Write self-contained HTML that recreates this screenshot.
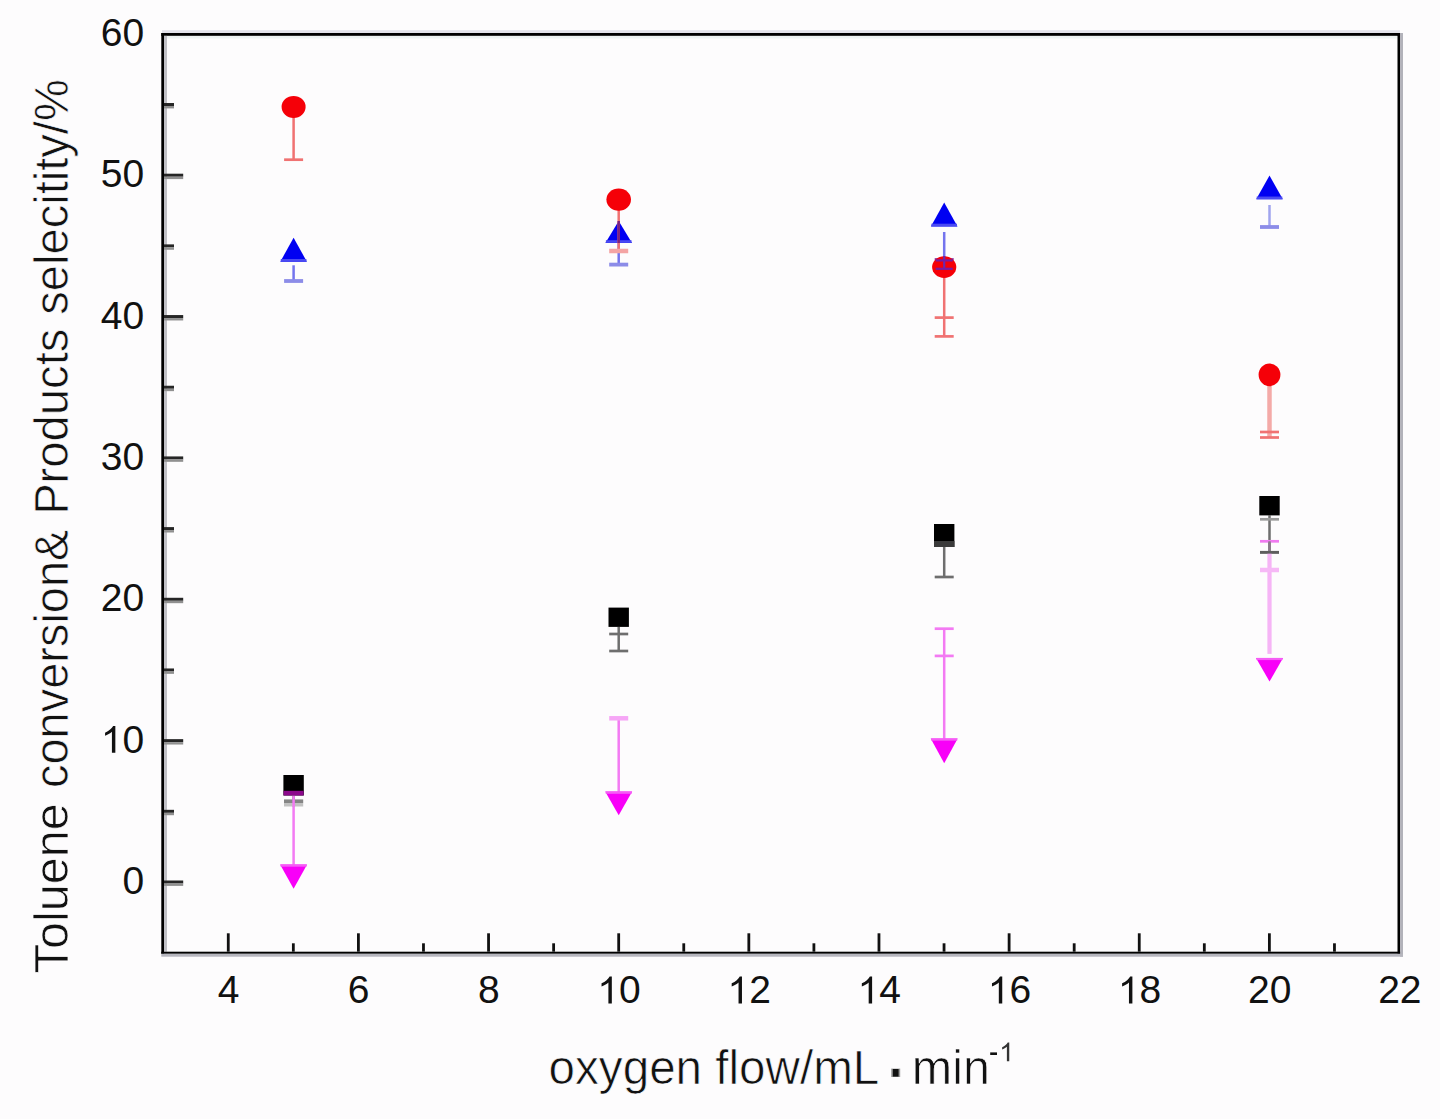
<!DOCTYPE html>
<html><head><meta charset="utf-8"><style>
html,body{margin:0;padding:0;background:#fdfcfd;}
body{width:1440px;height:1119px;overflow:hidden;}
svg{display:block;}
.tl{font-family:"Liberation Sans",sans-serif;font-size:39px;fill:#111;}
.at{font-family:"Liberation Sans",sans-serif;fill:#111;stroke:#fdfcfd;stroke-width:0.7px;}
</style></head><body>
<svg width="1440" height="1119" viewBox="0 0 1440 1119">
<rect x="162.00" y="30.20" width="1238.00" height="2.80" fill="#e2e2ea"/>
<rect x="161.30" y="33.00" width="1238.80" height="2.90" fill="#000"/>
<rect x="164.00" y="35.90" width="1233.50" height="2.60" fill="#eef3f3"/>
<rect x="161.30" y="33.00" width="2.70" height="920.80" fill="#000"/>
<rect x="164.00" y="35.90" width="3.00" height="915.80" fill="#c0c0c6"/>
<rect x="1397.50" y="33.00" width="2.60" height="920.80" fill="#000"/>
<rect x="1400.10" y="33.00" width="2.90" height="923.70" fill="#b2b2ba"/>
<rect x="161.30" y="951.70" width="1238.80" height="2.10" fill="#000"/>
<rect x="161.30" y="953.80" width="1241.70" height="2.90" fill="#b6b6be"/>
<rect x="164.00" y="880.50" width="19.20" height="3.00" fill="#262626"/>
<rect x="164.00" y="883.50" width="19.20" height="2.40" fill="#909090"/>
<rect x="164.00" y="809.82" width="10.00" height="3.00" fill="#262626"/>
<rect x="164.00" y="812.82" width="10.00" height="2.40" fill="#909090"/>
<rect x="164.00" y="739.14" width="19.20" height="3.00" fill="#262626"/>
<rect x="164.00" y="742.14" width="19.20" height="2.40" fill="#909090"/>
<rect x="164.00" y="668.46" width="10.00" height="3.00" fill="#262626"/>
<rect x="164.00" y="671.46" width="10.00" height="2.40" fill="#909090"/>
<rect x="164.00" y="597.78" width="19.20" height="3.00" fill="#262626"/>
<rect x="164.00" y="600.78" width="19.20" height="2.40" fill="#909090"/>
<rect x="164.00" y="527.10" width="10.00" height="3.00" fill="#262626"/>
<rect x="164.00" y="530.10" width="10.00" height="2.40" fill="#909090"/>
<rect x="164.00" y="456.42" width="19.20" height="3.00" fill="#262626"/>
<rect x="164.00" y="459.42" width="19.20" height="2.40" fill="#909090"/>
<rect x="164.00" y="385.74" width="10.00" height="3.00" fill="#262626"/>
<rect x="164.00" y="388.74" width="10.00" height="2.40" fill="#909090"/>
<rect x="164.00" y="315.06" width="19.20" height="3.00" fill="#262626"/>
<rect x="164.00" y="318.06" width="19.20" height="2.40" fill="#909090"/>
<rect x="164.00" y="244.38" width="10.00" height="3.00" fill="#262626"/>
<rect x="164.00" y="247.38" width="10.00" height="2.40" fill="#909090"/>
<rect x="164.00" y="173.70" width="19.20" height="3.00" fill="#262626"/>
<rect x="164.00" y="176.70" width="19.20" height="2.40" fill="#909090"/>
<rect x="164.00" y="103.02" width="10.00" height="3.00" fill="#262626"/>
<rect x="164.00" y="106.02" width="10.00" height="2.40" fill="#909090"/>
<rect x="226.87" y="933.30" width="2.80" height="18.40" fill="#111"/>
<rect x="291.94" y="943.30" width="2.80" height="8.40" fill="#111"/>
<rect x="357.01" y="933.30" width="2.80" height="18.40" fill="#111"/>
<rect x="422.08" y="943.30" width="2.80" height="8.40" fill="#111"/>
<rect x="487.15" y="933.30" width="2.80" height="18.40" fill="#111"/>
<rect x="552.22" y="943.30" width="2.80" height="8.40" fill="#111"/>
<rect x="617.29" y="933.30" width="2.80" height="18.40" fill="#111"/>
<rect x="682.36" y="943.30" width="2.80" height="8.40" fill="#111"/>
<rect x="747.43" y="933.30" width="2.80" height="18.40" fill="#111"/>
<rect x="812.50" y="943.30" width="2.80" height="8.40" fill="#111"/>
<rect x="877.57" y="933.30" width="2.80" height="18.40" fill="#111"/>
<rect x="942.64" y="943.30" width="2.80" height="8.40" fill="#111"/>
<rect x="1007.71" y="933.30" width="2.80" height="18.40" fill="#111"/>
<rect x="1072.78" y="943.30" width="2.80" height="8.40" fill="#111"/>
<rect x="1137.85" y="933.30" width="2.80" height="18.40" fill="#111"/>
<rect x="1202.92" y="943.30" width="2.80" height="8.40" fill="#111"/>
<rect x="1267.99" y="933.30" width="2.80" height="18.40" fill="#111"/>
<rect x="1333.06" y="943.30" width="2.80" height="8.40" fill="#111"/>
<text x="122.51" y="894.10" class="tl">0</text>
<path transform="translate(100.82,752.74) scale(0.01904,-0.01822)" d="M763 0H583V1147Q518 1085 412.5 1023T223 930V1104Q374 1175 487 1276T647 1472H763V0Z" fill="#111"/>
<text x="122.51" y="752.74" class="tl">0</text>
<text x="100.82" y="611.38" class="tl">2</text>
<text x="122.51" y="611.38" class="tl">0</text>
<text x="100.82" y="470.02" class="tl">3</text>
<text x="122.51" y="470.02" class="tl">0</text>
<text x="100.82" y="328.66" class="tl">4</text>
<text x="122.51" y="328.66" class="tl">0</text>
<text x="100.82" y="187.30" class="tl">5</text>
<text x="122.51" y="187.30" class="tl">0</text>
<text x="100.82" y="45.94" class="tl">6</text>
<text x="122.51" y="45.94" class="tl">0</text>
<text x="217.73" y="1003.40" class="tl">4</text>
<text x="347.87" y="1003.40" class="tl">6</text>
<text x="478.01" y="1003.40" class="tl">8</text>
<path transform="translate(597.30,1003.40) scale(0.01904,-0.01822)" d="M763 0H583V1147Q518 1085 412.5 1023T223 930V1104Q374 1175 487 1276T647 1472H763V0Z" fill="#111"/>
<text x="618.99" y="1003.40" class="tl">0</text>
<path transform="translate(727.44,1003.40) scale(0.01904,-0.01822)" d="M763 0H583V1147Q518 1085 412.5 1023T223 930V1104Q374 1175 487 1276T647 1472H763V0Z" fill="#111"/>
<text x="749.13" y="1003.40" class="tl">2</text>
<path transform="translate(857.58,1003.40) scale(0.01904,-0.01822)" d="M763 0H583V1147Q518 1085 412.5 1023T223 930V1104Q374 1175 487 1276T647 1472H763V0Z" fill="#111"/>
<text x="879.27" y="1003.40" class="tl">4</text>
<path transform="translate(987.72,1003.40) scale(0.01904,-0.01822)" d="M763 0H583V1147Q518 1085 412.5 1023T223 930V1104Q374 1175 487 1276T647 1472H763V0Z" fill="#111"/>
<text x="1009.41" y="1003.40" class="tl">6</text>
<path transform="translate(1117.86,1003.40) scale(0.01904,-0.01822)" d="M763 0H583V1147Q518 1085 412.5 1023T223 930V1104Q374 1175 487 1276T647 1472H763V0Z" fill="#111"/>
<text x="1139.55" y="1003.40" class="tl">8</text>
<text x="1248.00" y="1003.40" class="tl">2</text>
<text x="1269.69" y="1003.40" class="tl">0</text>
<text x="1378.14" y="1003.40" class="tl">2</text>
<text x="1399.83" y="1003.40" class="tl">2</text>
<text x="548.6" y="1084.3" class="at" font-size="47.6">oxygen flow/mL</text>
<rect x="891.20" y="1068.60" width="9.00" height="8.40" fill="#9a9a9a"/>
<rect x="892.80" y="1069.00" width="5.80" height="7.60" fill="#111"/>
<text x="911.8" y="1084.3" class="at" font-size="48.5">min</text>
<rect x="990.20" y="1052.40" width="6.80" height="2.60" fill="#111"/>
<path transform="translate(999.2,1061.2) scale(0.01318,-0.01262)" d="M763 0H583V1147Q518 1085 412.5 1023T223 930V1104Q374 1175 487 1276T647 1472H763V0Z" fill="#333"/>
<text transform="translate(68.3,973.40) rotate(-90)" x="0" y="0" class="at" font-size="47.75" textLength="170.09" lengthAdjust="spacingAndGlyphs">Toluene</text>
<text transform="translate(68.3,787.98) rotate(-90)" x="0" y="0" class="at" font-size="47.75" textLength="258.35" lengthAdjust="spacingAndGlyphs">conversion&amp;</text>
<text transform="translate(68.3,514.87) rotate(-90)" x="0" y="0" class="at" font-size="47.75" textLength="186.29" lengthAdjust="spacingAndGlyphs">Products</text>
<text transform="translate(68.3,314.74) rotate(-90)" x="0" y="0" class="at" font-size="47.75" textLength="235.55" lengthAdjust="spacingAndGlyphs">selecitity/%</text>
<rect x="292.35" y="795.50" width="2.5" height="11.00" fill="#6e6e6e"/>
<rect x="284.00" y="799.40" width="19.20" height="3.60" fill="#858585"/>
<rect x="284.00" y="803.00" width="19.20" height="3.50" fill="#c2c2c2"/>
<rect x="283.4" y="775" width="20.4" height="20.5" fill="#000000"/>
<rect x="617.45" y="626.90" width="2.5" height="24.10" fill="#6e6e6e"/>
<rect x="609.20" y="632.65" width="19" height="2.7" fill="#6e6e6e"/>
<rect x="609.20" y="649.65" width="19" height="2.7" fill="#6e6e6e"/>
<rect x="608.5" y="607.6" width="20.4" height="19.3" fill="#000000"/>
<rect x="942.95" y="547.00" width="2.5" height="30.00" fill="#6e6e6e"/>
<rect x="934.70" y="575.65" width="19" height="2.7" fill="#6e6e6e"/>
<rect x="934.0" y="524" width="20.4" height="23.0" fill="#000000"/>
<rect x="934.00" y="541.00" width="20.40" height="6.00" fill="#3a3a3a"/>
<rect x="1268.25" y="515.40" width="2.5" height="36.90" fill="#6e6e6e"/>
<rect x="1260.00" y="517.95" width="19" height="2.7" fill="#9a9a9a"/>
<rect x="1260.00" y="550.95" width="19" height="2.7" fill="#6e6e6e"/>
<rect x="1259.3" y="496" width="20.4" height="19.4" fill="#000000"/>
<rect x="292.35" y="795.50" width="2.5" height="69.00" fill="#f37af3"/>
<rect x="283.60" y="790.80" width="20.00" height="4.70" fill="#8c088c"/>
<path d="M280.1 864.5 L307.1 864.5 L293.6 888.8 Z" fill="#f800f8"/>
<rect x="280.60" y="864.50" width="26.00" height="2.20" fill="#f55cf5"/>
<rect x="617.45" y="718.30" width="2.5" height="73.30" fill="#f37af3"/>
<rect x="609.20" y="716.05" width="19" height="4.5" fill="#f6a6f6"/>
<path d="M605.2 791.6 L632.2 791.6 L618.7 815.2 Z" fill="#f800f8"/>
<rect x="605.70" y="791.60" width="26.00" height="2.20" fill="#f55cf5"/>
<rect x="942.95" y="628.70" width="2.5" height="109.80" fill="#f37af3"/>
<rect x="934.70" y="654.55" width="19" height="2.7" fill="#f37af3"/>
<rect x="934.70" y="627.35" width="19" height="2.7" fill="#f37af3"/>
<path d="M930.7 738.5 L957.7 738.5 L944.2 763.2 Z" fill="#f800f8"/>
<rect x="931.20" y="738.50" width="26.00" height="2.20" fill="#f55cf5"/>
<rect x="1267.40" y="552.30" width="4.2" height="101.60" fill="#f6b4f6"/>
<rect x="1260.00" y="539.95" width="19" height="2.7" fill="#f07af0"/>
<rect x="1260.00" y="567.75" width="19" height="4.5" fill="#f6b8f6"/>
<rect x="1268.25" y="541.30" width="2.5" height="11.00" fill="#8a7a8a"/>
<rect x="1260.00" y="550.95" width="19" height="2.7" fill="#5e5e5e"/>
<path d="M1256.0 657.9 L1283.0 657.9 L1269.5 681.5 Z" fill="#f800f8"/>
<rect x="1256.50" y="657.90" width="26.00" height="2.20" fill="#f55cf5"/>
<rect x="292.35" y="265.30" width="2.5" height="15.70" fill="#7474ee"/>
<rect x="284.10" y="279.10" width="19" height="3.8" fill="#8c8ce8"/>
<path d="M293.6 237.8 L306.9 261.7 L280.3 261.7 Z" fill="#0000f2"/>
<rect x="280.80" y="259.00" width="25.60" height="2.70" fill="#4a4af2"/>
<rect x="617.45" y="242.90" width="2.5" height="21.70" fill="#7474ee"/>
<rect x="609.20" y="262.70" width="19" height="3.8" fill="#8c8ce8"/>
<path d="M618.7 220.9 L632.0 242.9 L605.4 242.9 Z" fill="#0000f2"/>
<rect x="605.90" y="240.20" width="25.60" height="2.70" fill="#4a4af2"/>
<rect x="942.95" y="232.00" width="2.5" height="36.60" fill="#7474ee"/>
<rect x="934.70" y="258.10" width="19" height="3.8" fill="#8a3aa8"/>
<rect x="934.70" y="266.70" width="19" height="3.8" fill="#8a3aa8"/>
<path d="M944.2 202.6 L957.5 226.4 L930.9 226.4 Z" fill="#0000f2"/>
<rect x="931.40" y="223.70" width="25.60" height="2.70" fill="#4a4af2"/>
<rect x="1268.25" y="205.00" width="2.5" height="22.00" fill="#a0a4ee"/>
<rect x="1260.00" y="225.10" width="19" height="3.8" fill="#8c8ce8"/>
<path d="M1269.5 175.5 L1282.8 199.25 L1256.2 199.25 Z" fill="#0000f2"/>
<rect x="1256.70" y="196.55" width="25.60" height="2.70" fill="#4a4af2"/>
<rect x="292.35" y="106.90" width="2.5" height="52.80" fill="#f07272"/>
<rect x="284.10" y="158.35" width="19" height="2.7" fill="#f07272"/>
<ellipse cx="293.6" cy="106.9" rx="12" ry="11" fill="#f50008"/>
<rect x="617.45" y="199.60" width="2.5" height="51.40" fill="#f07272"/>
<rect x="609.20" y="248.75" width="19" height="4.5" fill="#f4a4a4"/>
<ellipse cx="618.7" cy="199.6" rx="12.3" ry="11.2" fill="#f50008"/>
<rect x="942.95" y="267.10" width="2.5" height="69.30" fill="#f07272"/>
<rect x="934.70" y="316.25" width="19" height="2.7" fill="#f07272"/>
<rect x="934.70" y="335.05" width="19" height="2.7" fill="#f07272"/>
<ellipse cx="944.2" cy="267.1" rx="12.1" ry="10.8" fill="#f50008"/>
<rect x="943.10" y="256.00" width="2.2" height="12.60" fill="#6a28b0"/>
<rect x="935.70" y="259.30" width="17" height="2.2" fill="#7a1aa0"/>
<rect x="935.70" y="267.70" width="17" height="2.2" fill="#7a1aa0"/>
<rect x="1267.25" y="374.80" width="4.5" height="62.70" fill="#f4aaa8"/>
<rect x="1260.00" y="430.65" width="19" height="2.7" fill="#f07272"/>
<rect x="1260.00" y="436.15" width="19" height="2.7" fill="#f07272"/>
<ellipse cx="1269.5" cy="374.8" rx="10.9" ry="11.4" fill="#f50008"/>
<rect x="617.45" y="221.00" width="2.5" height="22.00" fill="#7a2080"/>
</svg>
</body></html>
